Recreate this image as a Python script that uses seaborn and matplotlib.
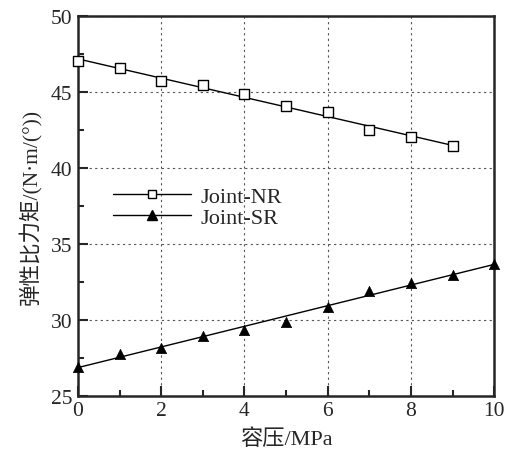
import numpy as np
import pandas as pd
import matplotlib
matplotlib.use("Agg")
import matplotlib.pyplot as plt
from matplotlib.lines import Line2D
from matplotlib.ticker import MultipleLocator
import seaborn as sns

# data
pressure_nr = [0, 1, 2, 3, 4, 5, 6, 7, 8, 9]
stiffness_nr = [47.02, 46.58, 45.74, 45.44, 44.87, 44.10, 43.66, 42.50, 42.04, 41.43]
pressure_sr = [0, 1, 2, 3, 4, 5, 6, 7, 8, 9, 10]
stiffness_sr = [26.93, 27.76, 28.18, 28.97, 29.32, 29.85, 30.86, 31.91, 32.41, 32.98, 33.68]
series_labels = ["Joint-NR", "Joint-SR"]
x_label = "容压/MPa"
y_label = "弹性比力矩/(N·m/(°))"

sns.set_style("ticks")
fonts = ["Liberation Serif", "Noto Sans CJK SC", "DejaVu Sans"]
plt.rcParams["font.family"] = fonts

df_nr = pd.DataFrame({"x": pressure_nr, "y": stiffness_nr})
df_sr = pd.DataFrame({"x": pressure_sr, "y": stiffness_sr})

fig = plt.figure(figsize=(5.10, 4.52), dpi=100)
ax = fig.add_axes([0.153, 0.122, 0.816, 0.840])

# fitted lines
sns.regplot(data=df_nr, x="x", y="y", ax=ax, ci=None, scatter=False, truncate=True,
            line_kws=dict(color="black", lw=1.0))
sns.regplot(data=df_sr, x="x", y="y", ax=ax, ci=None, scatter=False, truncate=True,
            line_kws=dict(color="black", lw=1.0))
# markers
sns.scatterplot(data=df_nr, x="x", y="y", ax=ax, marker="s", s=50, facecolor="white",
                edgecolor="black", linewidth=1.0, zorder=3, clip_on=False)
sns.scatterplot(data=df_sr, x="x", y="y", ax=ax, marker="^", s=55, color="black",
                edgecolor="black", linewidth=0.5, zorder=3, clip_on=False)

ax.set_xlim(0, 10)
ax.set_ylim(25, 50)
ax.xaxis.set_major_locator(MultipleLocator(2))
ax.xaxis.set_minor_locator(MultipleLocator(1))
ax.yaxis.set_major_locator(MultipleLocator(5))
ax.yaxis.set_minor_locator(MultipleLocator(2.5))
ax.tick_params(which="both", direction="in", top=False, right=False, width=1.5)
ax.tick_params(which="major", length=7, labelsize=15.5, pad=4)
ax.tick_params(which="minor", length=4)
for lab in ax.get_xticklabels() + ax.get_yticklabels():
    lab.set_family(fonts)

ax.grid(True, which="major", linestyle=(0, (2, 3)), color="#555555", lw=0.8)
for s in ax.spines.values():
    s.set_linewidth(1.8)
    s.set_visible(True)

ax.set_xlabel(x_label, fontsize=16, labelpad=6)
ax.set_ylabel(y_label, fontsize=15.5, labelpad=6)

handles = [
    Line2D([], [], color="black", lw=1.0, marker="s", markerfacecolor="white",
           markeredgecolor="black", markersize=6),
    Line2D([], [], color="black", lw=1.0, marker="^", markerfacecolor="black",
           markeredgecolor="black", markersize=7),
]
leg = ax.legend(handles, series_labels, loc="upper left", bbox_to_anchor=(0.063, 0.575),
                frameon=False, fontsize=16, handlelength=3.5, handletextpad=0.45,
                labelspacing=0.0, borderaxespad=0)

fig.savefig("out.png", dpi=100)
